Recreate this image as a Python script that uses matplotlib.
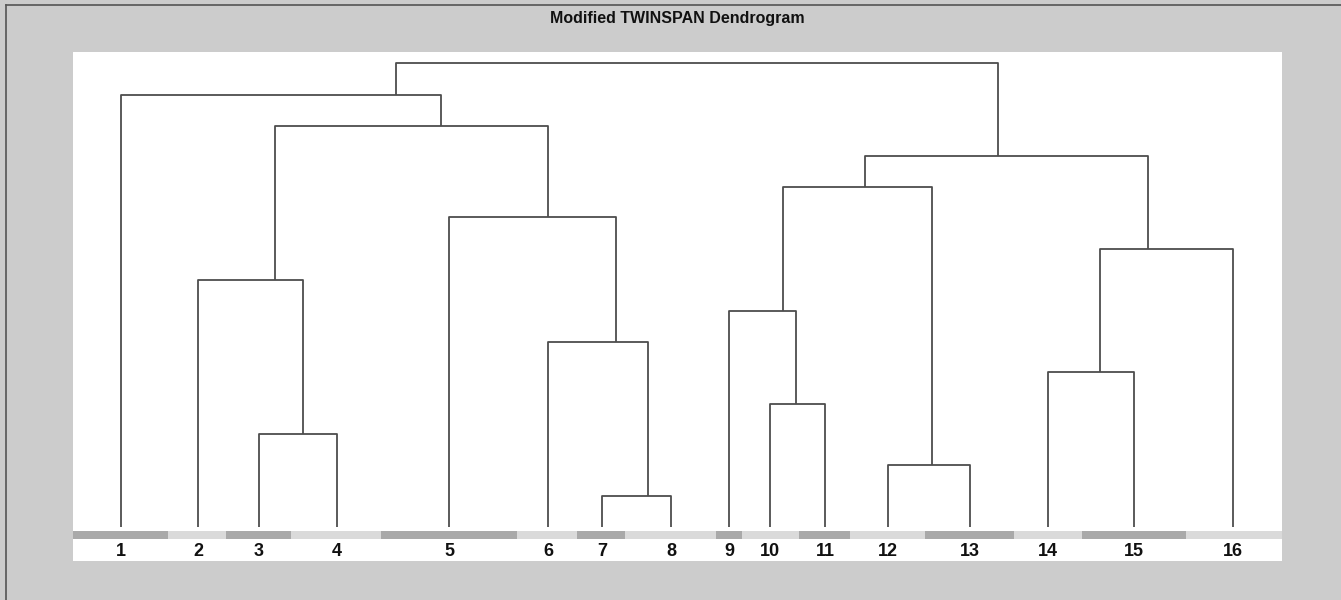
import matplotlib
matplotlib.use('Agg')
import matplotlib.pyplot as plt
from matplotlib.lines import Line2D
from matplotlib import font_manager

# leaves: label and horizontal position (arbitrary position units)
leaf_labels = [str(i) for i in range(1, 17)]
leaf_pos = [121, 198, 259, 337, 449, 548, 602, 671, 729, 770, 825, 888, 970, 1048, 1134, 1233]

# group bar under the leaves: boundaries between alternating shaded segments
seg_edges = [73, 168, 226, 291, 381, 517, 577, 625, 716, 742, 799, 850, 925, 1014, 1082, 1186, 1282]

# dendrogram nodes: name -> (left child, right child, level, attach position)
# children are leaf numbers (int) or node names (str)
nodes = {
    'root': ('A', 'H', 464, None),
    'A': (1, 'B', 432, 396),
    'B': ('C', 'E', 401, 441),
    'C': (2, 'D', 247, 275),
    'D': (3, 4, 93, 303),
    'E': (5, 'F', 310, 548),
    'F': (6, 'G', 185, 616),
    'G': (7, 8, 31, 648),
    'H': ('I', 'M', 371, 998),
    'I': ('J', 'L', 340, 865),
    'J': (9, 'K', 216, 783),
    'K': (10, 11, 123, 796),
    'L': (12, 13, 62, 932),
    'M': ('N', 16, 278, 1148),
    'N': (14, 15, 155, 1100),
}

available = {f.name for f in font_manager.fontManager.ttflist}
narrow = 'Liberation Sans Narrow' if 'Liberation Sans Narrow' in available else 'Liberation Sans'

fig = plt.figure(figsize=(13.41, 6.0), dpi=100)
fig.patch.set_facecolor('#cccccc')
ax = fig.add_axes([73 / 1341, 1 - 561 / 600, 1209 / 1341, 509 / 600])
ax.set_facecolor('white')
ax.set_xlim(73, 1282)
ax.set_ylim(-34, 475)
ax.axis('off')
ax.add_patch(plt.Rectangle((0, 0), 1, 1, transform=ax.transAxes, color='white', zorder=0))

line_kw = dict(color='#4d4d4d', linewidth=1.3, solid_capstyle='butt')


def anchor(child):
    if isinstance(child, int):
        return leaf_pos[child - 1], 0
    return nodes[child][3], nodes[child][2]


for name, (left, right, level, _) in nodes.items():
    xl, yl = anchor(left)
    xr, yr = anchor(right)
    ax.plot([xl, xl, xr, xr], [yl, level, level, yr], **line_kw)

# shaded group bar
for i in range(len(seg_edges) - 1):
    shade = '#a9a9a9' if i % 2 == 0 else '#dadada'
    ax.add_patch(plt.Rectangle((seg_edges[i], -12), seg_edges[i + 1] - seg_edges[i], 8,
                               facecolor=shade, edgecolor='none'))

for x, lab in zip(leaf_pos, leaf_labels):
    ax.text(x, -24, lab, ha='center', va='center', fontsize=13,
            fontweight='bold', family=narrow, color='#111111')

fig.text(677 / 1341, 1 - 18 / 600, 'Modified TWINSPAN Dendrogram', ha='center', va='center',
         fontsize=11.5, fontweight='bold', family=narrow, color='#111111')

# thin dark frame along top and left edges
fig.add_artist(Line2D([6 / 1341, 1], [1 - 5 / 600, 1 - 5 / 600], transform=fig.transFigure,
                      color='#555555', linewidth=1.2))
fig.add_artist(Line2D([6 / 1341, 6 / 1341], [0, 1 - 5 / 600], transform=fig.transFigure,
                      color='#555555', linewidth=1.2))

fig.savefig('out.png', dpi=100, facecolor=fig.get_facecolor())
